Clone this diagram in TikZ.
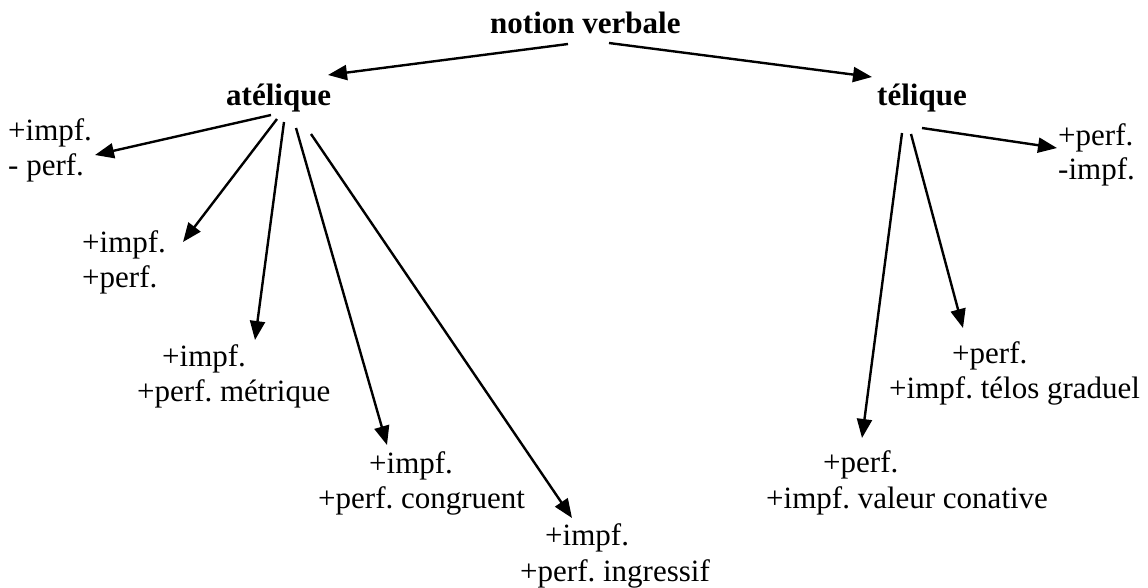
\documentclass[tikz,border=0pt]{standalone}
\usepackage{fontspec}
\setmainfont{Liberation Serif}
\usetikzlibrary{arrows.meta}
\frenchspacing
\tikzset{
  lbl/.style={anchor=base west, inner sep=0pt, font=\fontsize{31}{36}\selectfont\frenchspacing},
  hd/.style={lbl, font=\fontsize{31}{36}\selectfont\bfseries},
  arr/.style={line width=2.4pt, -{Triangle[length=19pt,width=15pt]}}
}
\begin{document}
\begin{tikzpicture}[x=1pt,y=-1pt]
\useasboundingbox (0,0) rectangle (1148,587);
% headings
\node[hd] (nv) at (490,33) {notion verbale};
\node[hd] (atel) at (226,105) {atélique};
\node[hd] (tel) at (877,105) {télique};
% atelic labels
\node[lbl] (l1a) at (8,140) {+impf.};
\node[lbl] (l1b) at (8,175) {- perf.};
\node[lbl] (l2a) at (82,252) {+impf.};
\node[lbl] (l2b) at (82,287) {+perf.};
\node[lbl] (l3a) at (162,366) {+impf.};
\node[lbl] (l3b) at (137,401) {+perf. métrique};
\node[lbl] (l4a) at (369,473) {+impf.};
\node[lbl] (l4b) at (318,508) {+perf. congruent};
\node[lbl] (l5a) at (545,545) {+impf.};
\node[lbl] (l5b) at (520,581) {+perf. ingressif};
% telic labels
\node[lbl] (r1a) at (1058,145) {+perf.};
\node[lbl] (r1b) at (1058,179) {-impf.};
\node[lbl] (r2a) at (952,363) {+perf.};
\node[lbl] (r2b) at (889,398) {+impf. télos graduel};
\node[lbl] (r3a) at (823,472) {+perf.};
\node[lbl] (r3b) at (766,508) {+impf. valeur conative};
% connector end points
\coordinate (nvL) at (568,44);
\coordinate (nvR) at (609,43);
\coordinate (atT) at (328,75);
\coordinate (teT) at (872,77);
\coordinate (a1s) at (271,115); \coordinate (a1e) at (95,155);
\coordinate (a2s) at (277,119); \coordinate (a2e) at (183,242);
\coordinate (a3s) at (284,122); \coordinate (a3e) at (255,340);
\coordinate (a4s) at (296,128); \coordinate (a4e) at (387,445);
\coordinate (a5s) at (311,134); \coordinate (a5e) at (572,518);
\coordinate (t1s) at (922,128); \coordinate (t1e) at (1057,148);
\coordinate (t2s) at (902,133); \coordinate (t2e) at (862,438);
\coordinate (t3s) at (911,134); \coordinate (t3e) at (963,328);
% connectors
\draw[arr] (nvL) -- (atT);
\draw[arr] (nvR) -- (teT);
\draw[arr] (a1s) -- (a1e);
\draw[arr] (a2s) -- (a2e);
\draw[arr] (a3s) -- (a3e);
\draw[arr] (a4s) -- (a4e);
\draw[arr] (a5s) -- (a5e);
\draw[arr] (t1s) -- (t1e);
\draw[arr] (t2s) -- (t2e);
\draw[arr] (t3s) -- (t3e);
\end{tikzpicture}
\end{document}
